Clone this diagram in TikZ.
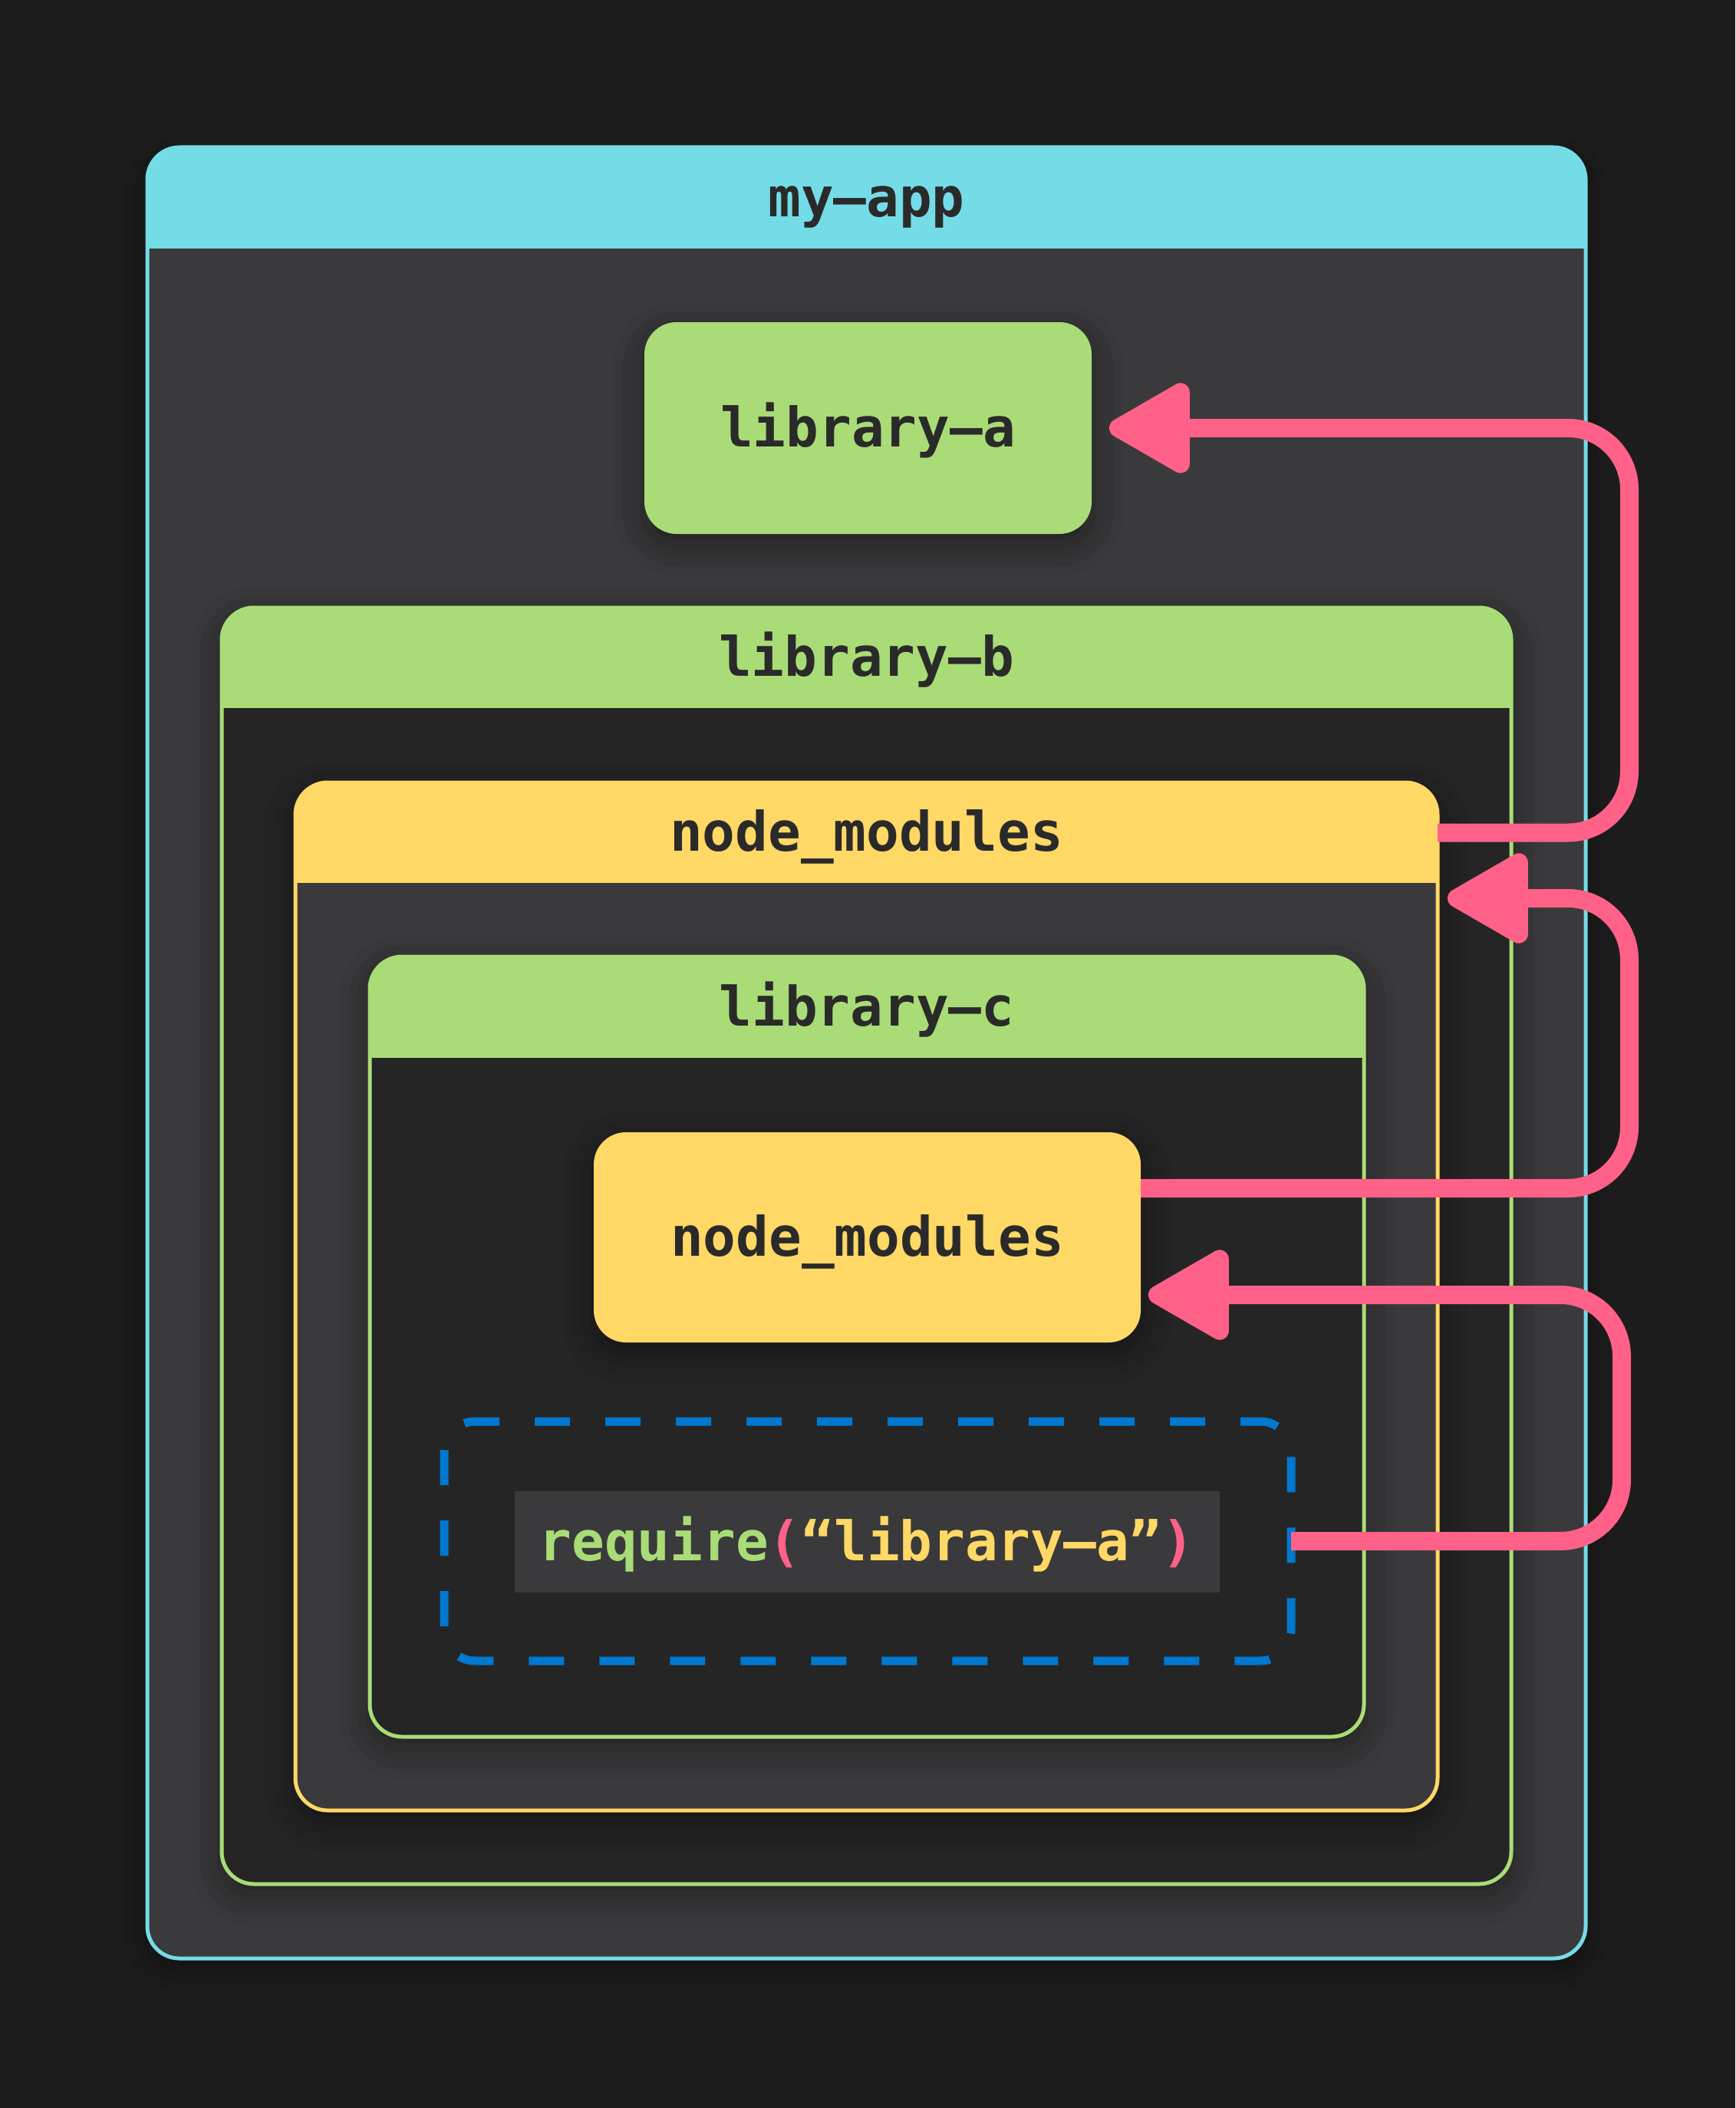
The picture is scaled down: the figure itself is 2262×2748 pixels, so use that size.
\documentclass[tikz,border=0pt]{standalone}
\usepackage{fontspec}
\newfontfamily\dmono{DejaVu Sans Mono}
\usetikzlibrary{arrows.meta,shadows.blur,calc}
\definecolor{bg}{HTML}{1D1D1D}
\definecolor{cyanc}{HTML}{74DCE6}
\definecolor{greenc}{HTML}{A9DC76}
\definecolor{yellowc}{HTML}{FFD866}
\definecolor{pinkc}{HTML}{FF6188}
\definecolor{bluec}{HTML}{0078D0}
\definecolor{bodylight}{HTML}{3A3A3C}
\definecolor{bodydark}{HTML}{252525}
\definecolor{ink}{HTML}{2A2A2A}
\tikzset{
  lab/.style={font=\dmono\bfseries\fontsize{71pt}{80pt}\selectfont, text=ink, text height=48pt, text depth=0pt, inner sep=0pt},
  cbox/.style={rectangle, rounded corners=42pt, line width=5pt, outer sep=0pt, inner sep=0pt},
  soft/.style={blur shadow={shadow xshift=0pt, shadow yshift=-14pt, shadow blur radius=40pt, shadow opacity=45}},
  arr/.style={draw=pinkc, line width=24pt, rounded corners=80pt, -{Triangle[length=118pt, width=128pt, round]}},
}
\newcommand\mycontainer[9]{%
  \node[cbox, soft, draw=#7, fill=#8, minimum width={#4-#2}, minimum height={#5-#3}] (#1) at ({(#2+#4)/2},{(#3+#5)/2}) {};
  \begin{scope}
    \clip[rounded corners=42pt] (#2,#3) rectangle (#4,#5);
    \fill[#7] (#2,#3) rectangle (#4,#6);
  \end{scope}
  \node[lab] (#1-hc) at ({(#2+#4)/2},{(#3+#6)/2}) {#9};
}
\begin{document}
\begin{tikzpicture}[x=1pt,y=-1pt]
\fill[bg] (0,0) rectangle (2262,2748);
\useasboundingbox (0,0) rectangle (2262,2748);

\mycontainer{myapp}{192}{192}{2067}{2553}{324}{cyanc}{bodylight}{my–app}
\node[cbox, soft, fill=greenc, lab, minimum width=583, minimum height=276] (liba) at (1131.5,558) {library–a};
\mycontainer{libb}{289}{792}{1970}{2456}{923}{greenc}{bodydark}{library–b}
\mycontainer{nmo}{385}{1020}{1874}{2360}{1151}{yellowc}{bodylight}{node\_modules}
\mycontainer{libc}{482}{1247}{1778}{2264}{1379}{greenc}{bodydark}{library–c}
\node[cbox, soft, fill=yellowc, lab, minimum width=713, minimum height=274] (nmi) at (1130.5,1613) {node\_modules};
\node[draw=bluec, line width=11pt, dash pattern=on 46pt off 46pt, dash phase=20pt, rounded corners=40pt, minimum width=1104, minimum height=312, outer sep=0pt, inner sep=0pt] (dbox) at (1131,2009) {};
\node[fill=bodylight, lab, minimum width=919, minimum height=132] (code) at (1130,2010) {\textcolor{greenc}{require}\textcolor{pinkc}{(}\textcolor{yellowc}{“library–a”}\textcolor{pinkc}{)}};

\coordinate (rail1) at (2124,0);
\coordinate (rail3) at (2114,0);
\coordinate (a2s) at ($(nmi.east)+(0,-64)$);
\coordinate (a2t) at (1887,1171);
\coordinate (a3t) at ($(nmi.east)+(10,75)$);
\draw[arr] (nmo.east |- nmo-hc) -- (rail1 |- nmo-hc) -- (rail1 |- liba.east) -- ([xshift=23pt]liba.east);
\draw[arr] (a2s) -- (rail1 |- a2s) -- (rail1 |- a2t) -- (a2t);
\draw[arr] (dbox.east) -- (rail3 |- dbox.east) -- (rail3 |- a3t) -- (a3t);
\end{tikzpicture}
\end{document}
